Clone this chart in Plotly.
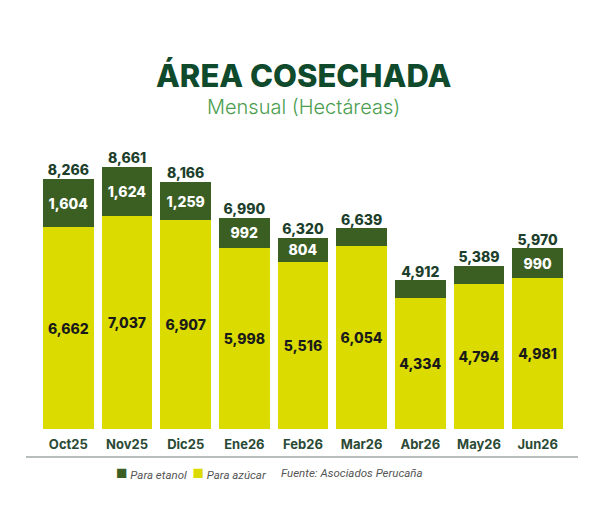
import plotly.graph_objects as go

# Monthly harvested area (hectares)
months = ['Oct25', 'Nov25', 'Dic25', 'Ene26', 'Feb26',
          'Mar26', 'Abr26', 'May26', 'Jun26']
para_azucar = [6662, 7037, 6907, 5998, 5516, 6054, 4334, 4794, 4981]
para_etanol = [1604, 1624, 1259, 992, 804, 585, 578, 595, 990]
totales = [8266, 8661, 8166, 6990, 6320, 6639, 4912, 5389, 5970]

verde_oscuro = '#3b5e23'
amarillo = '#dbdb00'
texto_oscuro = '#1d3f2c'
font_base = 'Inter'

# Small ethanol segments carry no label in the original.
etanol_text = [f"{v:,}" if v >= 700 else "" for v in para_etanol]
azucar_text = [f"{v:,}" for v in para_azucar]
total_text = [f"{v:,}" for v in totales]

fig = go.Figure()

fig.add_trace(go.Bar(
    x=months, y=para_azucar, name='Para azúcar',
    marker_color=amarillo, marker_line_width=0,
    text=azucar_text, textposition='inside', insidetextanchor='middle',
    textangle=0, constraintext='none',
    textfont=dict(family=font_base, size=14, color='#1a1a1a', weight=800),
    hoverinfo='skip'))

fig.add_trace(go.Bar(
    x=months, y=para_etanol, name='Para etanol',
    marker_color=verde_oscuro, marker_line_width=0,
    text=etanol_text, textposition='inside', insidetextanchor='middle',
    textangle=0, constraintext='none',
    textfont=dict(family=font_base, size=14, color='white', weight=800),
    hoverinfo='skip'))

# Totals above each stacked bar.
fig.add_trace(go.Scatter(
    x=months, y=totales, mode='text', text=total_text,
    textposition='top center',
    textfont=dict(family=font_base, size=14, color=texto_oscuro, weight=800),
    cliponaxis=False, showlegend=False, hoverinfo='skip'))

fig.update_layout(
    width=604, height=507,
    barmode='stack', bargap=0.14,
    showlegend=False,
    plot_bgcolor='white', paper_bgcolor='white',
    margin=dict(l=39, r=37, t=140, b=78),
    font=dict(family=font_base),
    xaxis=dict(showgrid=False, showline=False, zeroline=False,
               ticks='', ticklabelstandoff=6,
               tickfont=dict(family=font_base, size=13, color='#2b4a35',
                             weight=700)),
    yaxis=dict(range=[0, 9553], visible=False, fixedrange=True),
)

# Title and subtitle
fig.add_annotation(text='ÁREA COSECHADA', xref='paper', yref='paper',
                   x=0.5, y=1.2215, xanchor='center', yanchor='middle',
                   showarrow=False,
                   font=dict(family=font_base, size=31, color='#0f4a2d',
                             weight=800))
fig.add_annotation(text='Mensual (Hectáreas)', xref='paper', yref='paper',
                   x=0.5, y=1.114, xanchor='center', yanchor='middle',
                   showarrow=False,
                   font=dict(family=font_base, size=20, color='#4c9e4f',
                             weight=300))

# Separator line under the category labels
fig.add_shape(type='line', xref='paper', yref='paper',
              x0=-0.0246, x1=1.0208, y0=-0.0969, y1=-0.0969,
              line=dict(color='#9eaaa8', width=1.5))

# Compact legend and source note
sq = "<span style='color:{};font-size:19px'>■</span>"
legend_txt = (sq.format(verde_oscuro) + " <i>Para etanol</i>  "
              + sq.format(amarillo) + " <i>Para azúcar</i>")
fig.add_annotation(text=legend_txt, xref='paper', yref='paper',
                   x=0.142, y=-0.152, xanchor='left', yanchor='middle',
                   showarrow=False,
                   font=dict(family='Roboto', size=11.5, color='#555555'))
fig.add_annotation(text='<i>Fuente: Asociados Perucaña</i>',
                   xref='paper', yref='paper',
                   x=0.4545, y=-0.152, xanchor='left', yanchor='middle',
                   showarrow=False,
                   font=dict(family='Roboto', size=11.5, color='#555555'))

# Drop the default page margin so the figure sits at the window's corner.
fig.write_html("out.html", config={'displayModeBar': False},
               post_script="document.body.style.margin='0';")
